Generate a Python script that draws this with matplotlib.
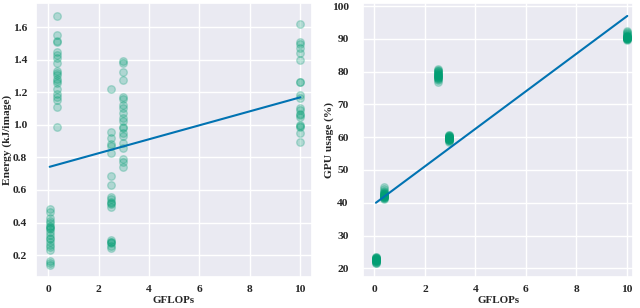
import numpy as np
import matplotlib
matplotlib.use("Agg")
import matplotlib.pyplot as plt
import seaborn as sns

# GFLOPs of each model (cluster positions)
gflops = [0.06, 0.37, 2.5, 2.96, 10.02]

# Energy (kJ/image) per run, grouped by model
energy = [
    [0.481, 0.467, 0.426, 0.411, 0.395, 0.378, 0.370, 0.364, 0.360, 0.344,
     0.323, 0.303, 0.300, 0.282, 0.262, 0.247, 0.231, 0.165, 0.153, 0.139],
    [1.670, 1.553, 1.518, 1.508, 1.450, 1.430, 1.409, 1.383, 1.334, 1.321,
     1.307, 1.280, 1.270, 1.260, 1.219, 1.188, 1.174, 1.153, 1.108, 0.989],
    [1.219, 0.958, 0.917, 0.883, 0.872, 0.825, 0.686, 0.631, 0.559, 0.542,
     0.528, 0.520, 0.514, 0.497, 0.292, 0.282, 0.280, 0.272, 0.258, 0.241],
    [1.395, 1.379, 1.327, 1.276, 1.174, 1.157, 1.122, 1.102, 1.071, 1.040,
     1.026, 0.989, 0.979, 0.952, 0.932, 0.887, 0.856, 0.788, 0.774, 0.743],
    [1.620, 1.512, 1.495, 1.471, 1.440, 1.399, 1.266, 1.262, 1.184, 1.164,
     1.102, 1.090, 1.070, 1.062, 1.051, 1.000, 0.995, 0.990, 0.952, 0.897],
]

# GPU usage (%) per run, grouped by model
gpu = [
    [21.5, 21.8, 22.0, 22.2, 22.3, 22.4, 22.5, 22.6, 22.6, 22.7,
     22.8, 22.9, 23.0, 23.1, 23.2, 23.3, 23.4, 23.5, 21.7, 22.1],
    [41.0, 41.3, 41.5, 41.7, 41.8, 41.9, 42.0, 42.1, 42.2, 42.3,
     42.4, 42.5, 42.6, 42.7, 42.9, 43.1, 43.4, 43.7, 44.3, 44.8],
    [76.9, 77.3, 77.6, 77.9, 78.1, 78.3, 78.5, 78.7, 78.9, 79.1,
     79.3, 79.5, 79.7, 79.9, 80.1, 80.3, 80.5, 80.7, 78.6, 79.0],
    [58.6, 58.8, 59.0, 59.1, 59.2, 59.3, 59.4, 59.5, 59.6, 59.7,
     59.8, 59.9, 60.0, 60.1, 60.2, 60.3, 60.4, 60.5, 60.6, 60.8],
    [89.6, 89.8, 89.9, 90.0, 90.1, 90.2, 90.3, 90.4, 90.5, 90.6,
     90.7, 90.8, 90.9, 91.0, 91.3, 91.6, 91.9, 92.2, 92.5, 90.2],
]

# linear trend lines: [intercept, slope]
energy_fit = [0.740, 0.0429]
gpu_fit = [39.66, 5.72]

xlabel = "GFLOPs"
ylabels = ["Energy (kJ/image)", "GPU usage (%)"]
xticks = [0, 2, 4, 6, 8, 10]
yticks_left = [0.2, 0.4, 0.6, 0.8, 1.0, 1.2, 1.4, 1.6]
yticks_right = [20, 30, 40, 50, 60, 70, 80, 90, 100]

sns.set_theme(style="darkgrid")
plt.rcParams['font.family'] = ['Liberation Serif', 'DejaVu Serif']
plt.rcParams['font.weight'] = 'bold'
plt.rcParams['axes.labelweight'] = 'bold'

pal = sns.color_palette("colorblind")
green = pal[2]
blue = pal[0]

fig = plt.figure(figsize=(6.4, 3.08), dpi=100)
ax1 = fig.add_axes([0.056, 0.1006, 0.4315, 0.8894])
ax2 = fig.add_axes([0.5677, 0.1006, 0.4219, 0.8894])

fs = 8.2

def draw(ax, groups, fit, ylabel, yticks, ypad, fmt, ylab_x):
    xs = np.concatenate([[g] * len(v) for g, v in zip(gflops, groups)])
    ys = np.concatenate([np.asarray(v, float) for v in groups])
    ax.scatter(xs, ys, s=30, color=green, alpha=0.25, linewidths=1.0,
               edgecolors=green, zorder=2)
    lx = np.array([xs.min(), xs.max()])
    ax.plot(lx, fit[0] + fit[1] * lx, color=blue, lw=1.5, zorder=3)
    ax.set_xticks(xticks)
    ax.set_yticks(yticks)
    ax.set_xticklabels([str(t) for t in xticks], fontsize=fs, fontweight='bold')
    ax.set_yticklabels([fmt.format(t) for t in yticks], fontsize=fs, fontweight='bold')
    ax.set_xlabel(xlabel, fontsize=7.9, fontweight='bold', labelpad=1.5)
    ax.set_ylabel(ylabel, fontsize=fs, fontweight='bold')
    ax.yaxis.set_label_coords(ylab_x, 0.5)
    ax.tick_params(axis='both', length=0)
    ax.tick_params(axis='x', pad=5.5)
    ax.tick_params(axis='y', pad=ypad)

draw(ax1, energy, energy_fit, ylabels[0], yticks_left, 6.3, "{:.1f}", -0.085)
draw(ax2, gpu, gpu_fit, ylabels[1], yticks_right, 10.5, "{:d}", -0.110)
ax1.set_xlim(-0.49, 10.48)
ax1.set_ylim(0.065, 1.749)
ax2.set_xlim(-0.44, 10.26)
ax2.set_ylim(17.35, 100.9)

fig.savefig("out.png", dpi=100)
